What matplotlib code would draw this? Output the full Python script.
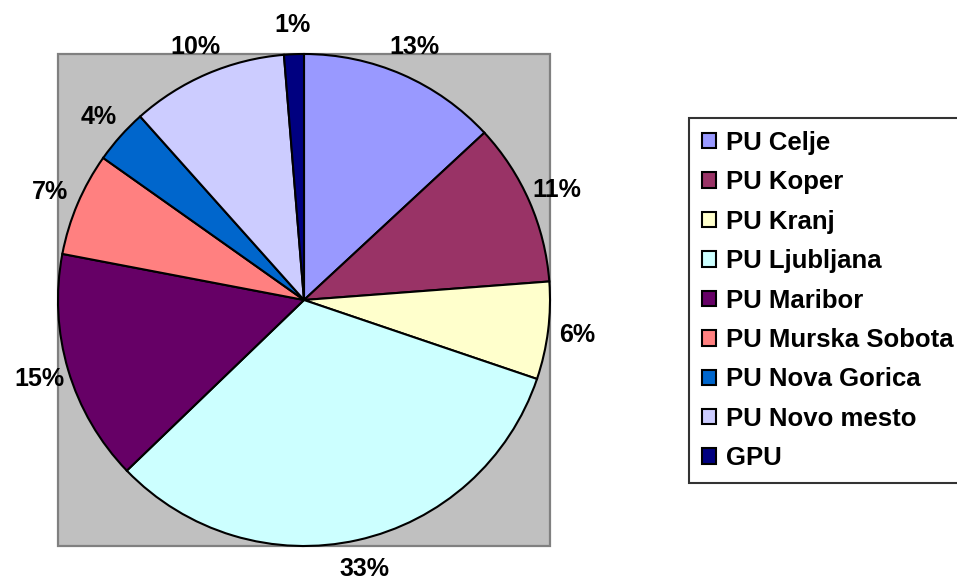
import matplotlib
matplotlib.use("Agg")
import matplotlib.pyplot as plt
from matplotlib.patches import Rectangle

# police departments and their share (percent)
names = ['PU Celje', 'PU Koper', 'PU Kranj', 'PU Ljubljana', 'PU Maribor',
         'PU Murska Sobota', 'PU Nova Gorica', 'PU Novo mesto', 'GPU']
shares = [13.1, 10.7, 6.4, 32.6, 15.2, 6.8, 3.6, 10.3, 1.3]
colors = ['#9999FF', '#993366', '#FFFFCC', '#CCFFFF', '#660066',
          '#FF8080', '#0066CC', '#CCCCFF', '#000080']

plt.rcParams['font.family'] = ['Liberation Sans', 'DejaVu Sans']
plt.rcParams['font.weight'] = 'bold'

W, H = 957, 578
fig = plt.figure(figsize=(W / 100, H / 100), dpi=100)

# pie centre (304, 300) px from top-left, radius ~246 px
r = 246.0
cx, cy = 304.0, H - 300.0
lim = 1.25
ax = fig.add_axes([(cx - lim * r) / W, (cy - lim * r) / H,
                   2 * lim * r / W, 2 * lim * r / H])

ax.add_patch(Rectangle((-1, -1), 2, 2, facecolor='#C0C0C0',
                       edgecolor='#808080', lw=1.6, zorder=0))

wedges, texts, autotexts = ax.pie(
    shares, colors=colors, startangle=90, counterclock=False,
    autopct='%1.0f%%', pctdistance=1.12,
    wedgeprops=dict(edgecolor='black', linewidth=1.5),
    textprops=dict(fontsize=18, fontweight='bold', color='black'),
    frame=True)
ax.set_xlim(-lim, lim)
ax.set_ylim(-lim, lim)
ax.set_aspect('equal')
ax.axis('off')

leg = fig.legend(wedges, names, loc='upper left',
                 bbox_to_anchor=(689 / W, 1 - 118 / H),
                 prop=dict(size=18.5, weight='bold'),
                 handlelength=0.55, handleheight=0.55, handletextpad=0.4,
                 borderpad=0.5, borderaxespad=0, labelspacing=0.6,
                 fancybox=False, frameon=True, edgecolor='black')
leg.get_frame().set_linewidth(1.5)
for h in leg.legend_handles:
    h.set_edgecolor('black')
    h.set_linewidth(1.5)

fig.savefig('out.png', dpi=100)
